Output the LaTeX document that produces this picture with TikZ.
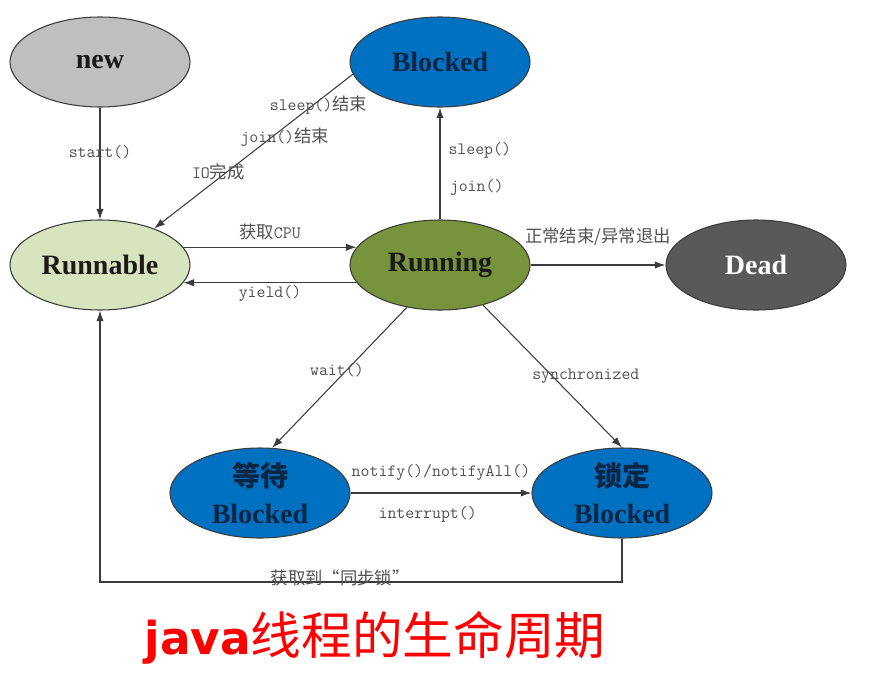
\documentclass[tikz,border=0pt]{standalone}
\usepackage{fontspec}
\setmainfont{Liberation Serif}
\newfontfamily\cjk{Noto Sans CJK SC}
\newfontfamily\statefont{Liberation Serif}
\newfontfamily\tagfont{Latin Modern Mono}
\newfontfamily\titlefont{DejaVu Sans}
\usetikzlibrary{arrows.meta,shapes.geometric,positioning}
\definecolor{ink}{HTML}{1A1A1A}
\definecolor{wire}{HTML}{3C3C3C}
\definecolor{note}{HTML}{505050}
\definecolor{newgray}{HTML}{BFBFBF}
\definecolor{blockblue}{HTML}{0070C0}
\definecolor{navy}{HTML}{0B2545}
\definecolor{paleleaf}{HTML}{D7E4BD}
\definecolor{olive}{HTML}{77933C}
\definecolor{deadgray}{HTML}{595959}
\definecolor{titlered}{HTML}{FF0000}

\begin{document}
\begin{tikzpicture}[x=0.75pt,y=-0.75pt,
  lifestate/.style={ellipse, draw=wire, line width=0.8pt, minimum width=135pt,
    minimum height=67.5pt, inner sep=0pt, align=center,
    font=\statefont\bfseries\fontsize{21}{28}\selectfont},
  flow/.style={draw=wire, line width=0.8pt, -{Latex[length=8pt,width=5.5pt]}},
  tag/.style={font=\tagfont\fontsize{13}{15}\selectfont, text=note, inner sep=1pt}]
  \useasboundingbox (0,0) rectangle (895,696);

  % states
  \node[lifestate, fill=newgray, text=ink] (new) at (100,62) {new};
  \node[lifestate, fill=blockblue, text=navy] (blocked) at (440,62) {Blocked};
  \node[lifestate, fill=paleleaf, text=ink] (runnable) at (100,265) {Runnable};
  \node[lifestate, fill=olive, text=ink] (running) at (440,265) {Running};
  \node[lifestate, fill=deadgray, text=white] (dead) at (756,265) {Dead};
  \node[lifestate, fill=blockblue, text=navy] (waiting) at (260,493) {{\cjk 等待}\\Blocked};
  \node[lifestate, fill=blockblue, text=navy] (locked) at (622,493) {{\cjk 锁定}\\Blocked};
  \coordinate (sink) at (100,582);

  % transitions
  \draw[flow] (new) -- node[tag, pos=0.4] {start()} (runnable);
  \draw[flow] (blocked.188) -- node[tag, pos=0.2, xshift=4pt] {sleep(){\cjk 结束}}
    node[tag, pos=0.41, xshift=10pt] {join(){\cjk 结束}}
    node[tag, pos=0.63, xshift=-7pt] {IO{\cjk 完成}} (runnable.34);
  \draw[flow] (running) -- node[tag, pos=0.62, anchor=west, xshift=5pt] {sleep()}
    node[tag, pos=0.29, anchor=west, xshift=6pt] {join()} (blocked);
  \draw[flow] (runnable.12) -- node[tag, above=4pt] {{\cjk 获取}CPU} (running.168);
  \draw[flow] (running.192) -- node[tag, below=1pt] {yield()} (runnable.348);
  \draw[flow] (running) -- node[tag, above=13pt] {{\cjk 正常结束/异常退出}} (dead);
  \draw[flow] (running.232) -- node[tag, pos=0.45, xshift=-7pt] {wait()} (waiting.75);
  \draw[flow] (running.317) -- node[tag, pos=0.5, xshift=25pt] {synchronized} (locked.north);
  \draw[flow] (waiting.east) -- node[tag, above=8pt] {notify()/notifyAll()}
    node[tag, below=9pt, xshift=-10pt] {interrupt()} (locked.west);
  \draw[flow] (locked.south) |- node[tag, pos=0.77, yshift=3pt] {{\cjk 获取到“同步锁”}} (sink) -- (runnable.south);

  % caption
  \node[text=titlered, inner sep=0pt] (title) at (375,638)
    {{\titlefont\bfseries\fontsize{34}{40}\selectfont java}{\cjk\fontsize{38}{44}\selectfont 线程的生命周期}};
\end{tikzpicture}
\end{document}
